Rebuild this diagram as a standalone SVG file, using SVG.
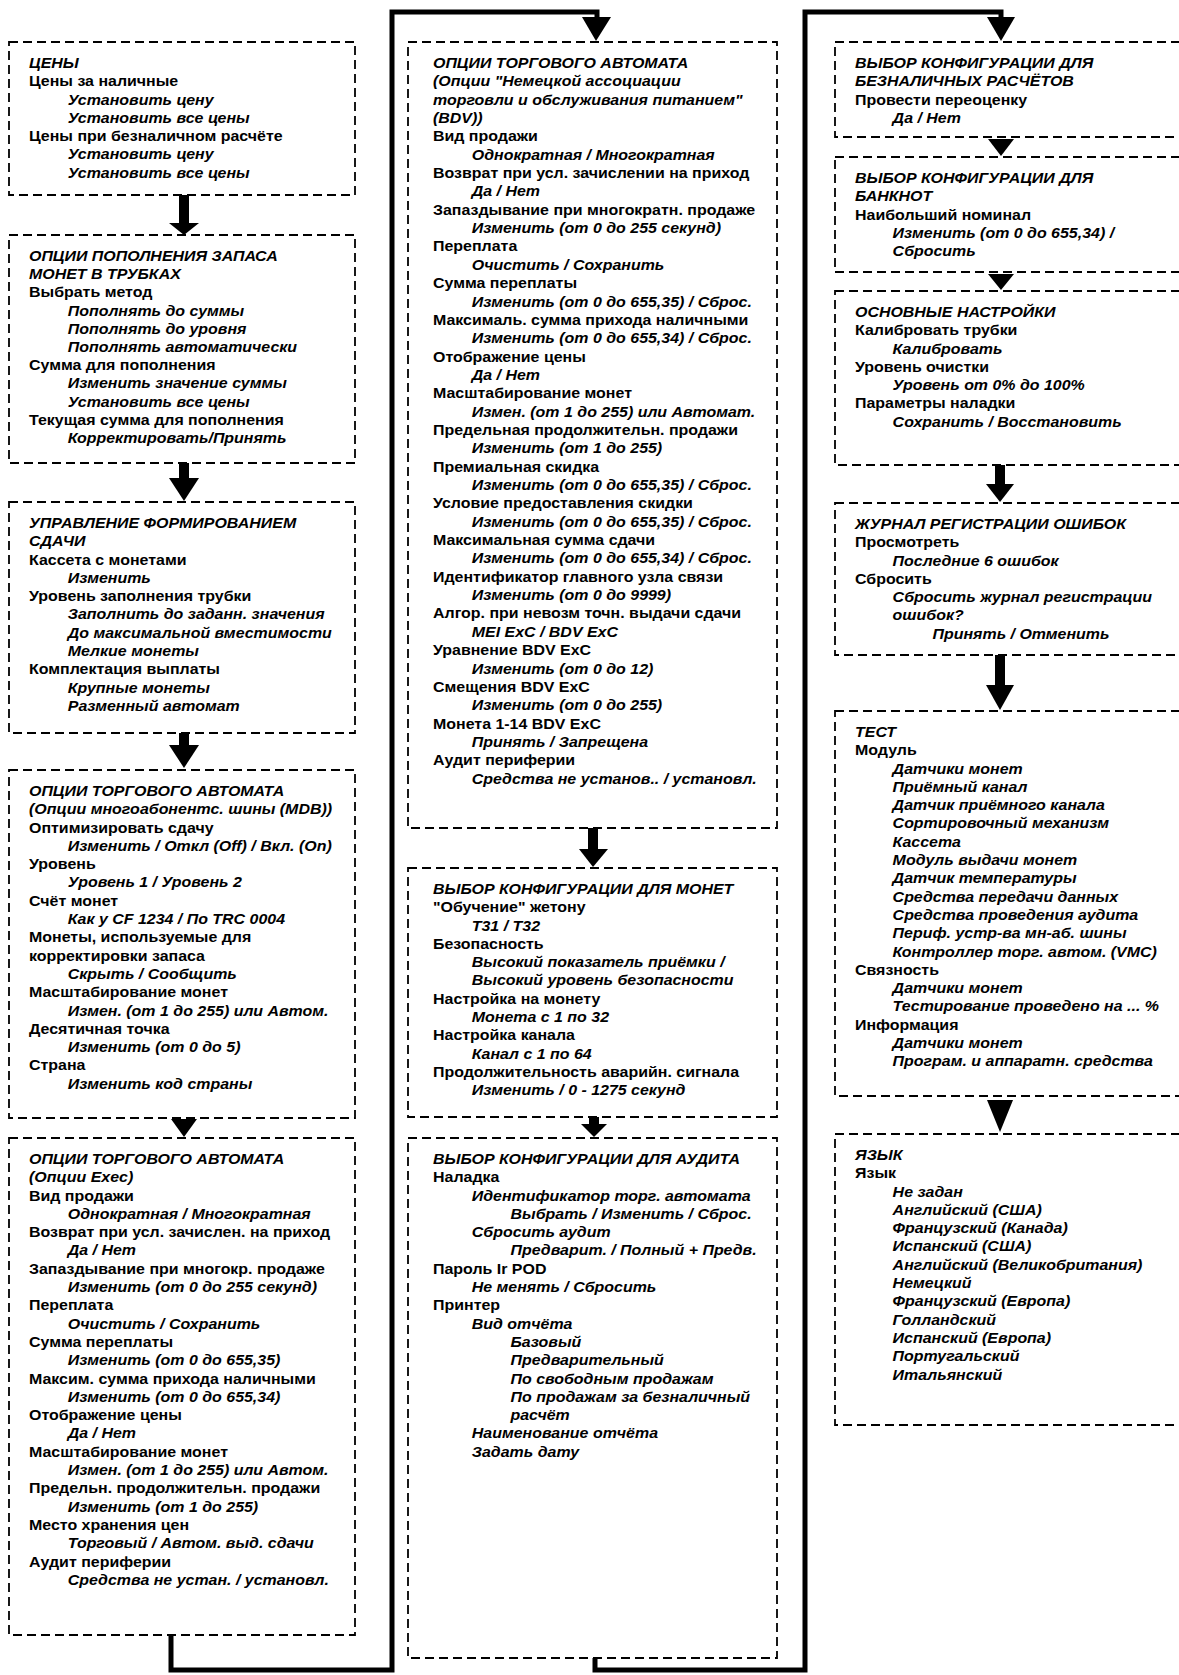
<svg xmlns="http://www.w3.org/2000/svg" width="1179" height="1675" viewBox="0 0 1179 1675">
<style>
.box{fill:none;stroke:#000;stroke-width:1.8;stroke-dasharray:9 5}
.t{font-family:"Liberation Sans",Arial,sans-serif;font-size:14px;font-weight:bold;fill:#000}
.i{font-style:italic}
.conn{fill:none;stroke:#000;stroke-width:5}
.ah{fill:#000}
</style>
<rect width="1179" height="1675" fill="#fff"/>
<g id="connectors">
<path class="conn" d="M171 1635 V1670 H392 V12 H597 V22"/>
<path class="conn" d="M595 1658 V1670 H805 V12 H1001 V22"/>
<polygon class="ah" points="582,17 611,17 596,41"/>
<polygon class="ah" points="987,17 1015,17 1001,41"/>
<rect class="ah" x="179" y="195" width="10" height="28"/>
<polygon class="ah" points="169,223 199,223 184,235"/>
<rect class="ah" x="179" y="463" width="10" height="15"/>
<polygon class="ah" points="169,478 199,478 184,501"/>
<rect class="ah" x="179" y="733" width="10" height="12"/>
<polygon class="ah" points="169,745 199,745 184,768"/>
<polygon class="ah" points="171,1119 197,1119 184,1137"/>
<rect class="ah" x="588" y="828" width="10" height="21"/>
<polygon class="ah" points="579,849 608,849 593,867"/>
<rect class="ah" x="589" y="1117" width="10" height="8"/>
<polygon class="ah" points="581,1124 607,1124 594,1137"/>
<polygon class="ah" points="988,139 1014,139 1001,156"/>
<polygon class="ah" points="988,274 1014,274 1001,290"/>
<rect class="ah" x="995" y="465" width="10" height="20"/>
<polygon class="ah" points="986,484 1014,484 1000,502"/>
<rect class="ah" x="995" y="655" width="10" height="30"/>
<polygon class="ah" points="986,685 1014,685 1000,710"/>
<polygon class="ah" points="987,1100 1013,1100 1000,1132"/>
</g>

<g id="n-prices">
<rect class="box" x="9" y="42" width="346" height="153"/>
<g transform="translate(29 0) scale(1.14 1)"><text class="t" y="68">
<tspan x="0" class="i">ЦЕНЫ</tspan>
<tspan x="0" dy="18.3">Цены за наличные</tspan>
<tspan x="34" dy="18.3" class="i">Установить цену</tspan>
<tspan x="34" dy="18.3" class="i">Установить все цены</tspan>
<tspan x="0" dy="18.3">Цены при безналичном расчёте</tspan>
<tspan x="34" dy="18.3" class="i">Установить цену</tspan>
<tspan x="34" dy="18.3" class="i">Установить все цены</tspan>
</text></g>
</g>

<g id="n-refill">
<rect class="box" x="9" y="235" width="346" height="228"/>
<g transform="translate(29 0) scale(1.14 1)"><text class="t" y="261">
<tspan x="0" class="i">ОПЦИИ ПОПОЛНЕНИЯ ЗАПАСА</tspan>
<tspan x="0" dy="18.2" class="i">МОНЕТ В ТРУБКАХ</tspan>
<tspan x="0" dy="18.2">Выбрать метод</tspan>
<tspan x="34" dy="18.2" class="i">Пополнять до суммы</tspan>
<tspan x="34" dy="18.2" class="i">Пополнять до уровня</tspan>
<tspan x="34" dy="18.2" class="i">Пополнять автоматически</tspan>
<tspan x="0" dy="18.2">Сумма для пополнения</tspan>
<tspan x="34" dy="18.2" class="i">Изменить значение суммы</tspan>
<tspan x="34" dy="18.2" class="i">Установить все цены</tspan>
<tspan x="0" dy="18.2">Текущая сумма для пополнения</tspan>
<tspan x="34" dy="18.2" class="i">Корректировать/Принять</tspan>
</text></g>
</g>

<g id="n-change">
<rect class="box" x="9" y="502" width="346" height="231"/>
<g transform="translate(29 0) scale(1.14 1)"><text class="t" y="528">
<tspan x="0" class="i">УПРАВЛЕНИЕ ФОРМИРОВАНИЕМ</tspan>
<tspan x="0" dy="18.3" class="i">СДАЧИ</tspan>
<tspan x="0" dy="18.3">Кассета с монетами</tspan>
<tspan x="34" dy="18.3" class="i">Изменить</tspan>
<tspan x="0" dy="18.3">Уровень заполнения трубки</tspan>
<tspan x="34" dy="18.3" class="i">Заполнить до заданн. значения</tspan>
<tspan x="34" dy="18.3" class="i">До максимальной вместимости</tspan>
<tspan x="34" dy="18.3" class="i">Мелкие монеты</tspan>
<tspan x="0" dy="18.3">Комплектация выплаты</tspan>
<tspan x="34" dy="18.3" class="i">Крупные монеты</tspan>
<tspan x="34" dy="18.3" class="i">Разменный автомат</tspan>
</text></g>
</g>

<g id="n-mdb">
<rect class="box" x="9" y="770" width="346" height="348"/>
<g transform="translate(29 0) scale(1.14 1)"><text class="t" y="796">
<tspan x="0" class="i">ОПЦИИ ТОРГОВОГО АВТОМАТА</tspan>
<tspan x="0" dy="18.3" class="i">(Опции многоабонентс. шины (MDB))</tspan>
<tspan x="0" dy="18.3">Оптимизировать сдачу</tspan>
<tspan x="34" dy="18.3" class="i">Изменить / Откл (Off) / Вкл. (On)</tspan>
<tspan x="0" dy="18.3">Уровень</tspan>
<tspan x="34" dy="18.3" class="i">Уровень 1 / Уровень 2</tspan>
<tspan x="0" dy="18.3">Счёт монет</tspan>
<tspan x="34" dy="18.3" class="i">Как у CF 1234 / По TRC 0004</tspan>
<tspan x="0" dy="18.3">Монеты, используемые для</tspan>
<tspan x="0" dy="18.3">корректировки запаса</tspan>
<tspan x="34" dy="18.3" class="i">Скрыть / Сообщить</tspan>
<tspan x="0" dy="18.3">Масштабирование монет</tspan>
<tspan x="34" dy="18.3" class="i">Измен. (от 1 до 255) или Автом.</tspan>
<tspan x="0" dy="18.3">Десятичная точка</tspan>
<tspan x="34" dy="18.3" class="i">Изменить (от 0 до 5)</tspan>
<tspan x="0" dy="18.3">Страна</tspan>
<tspan x="34" dy="18.3" class="i">Изменить код страны</tspan>
</text></g>
</g>

<g id="n-exec">
<rect class="box" x="9" y="1138" width="346" height="497"/>
<g transform="translate(29 0) scale(1.14 1)"><text class="t" y="1164">
<tspan x="0" class="i">ОПЦИИ ТОРГОВОГО АВТОМАТА</tspan>
<tspan x="0" dy="18.3" class="i">(Опции Exec)</tspan>
<tspan x="0" dy="18.3">Вид продажи</tspan>
<tspan x="34" dy="18.3" class="i">Однократная / Многократная</tspan>
<tspan x="0" dy="18.3">Возврат при усл. зачислен. на приход</tspan>
<tspan x="34" dy="18.3" class="i">Да / Нет</tspan>
<tspan x="0" dy="18.3">Запаздывание при многокр. продаже</tspan>
<tspan x="34" dy="18.3" class="i">Изменить (от 0 до 255 секунд)</tspan>
<tspan x="0" dy="18.3">Переплата</tspan>
<tspan x="34" dy="18.3" class="i">Очистить / Сохранить</tspan>
<tspan x="0" dy="18.3">Сумма переплаты</tspan>
<tspan x="34" dy="18.3" class="i">Изменить (от 0 до 655,35)</tspan>
<tspan x="0" dy="18.3">Максим. сумма прихода наличными</tspan>
<tspan x="34" dy="18.3" class="i">Изменить (от 0 до 655,34)</tspan>
<tspan x="0" dy="18.3">Отображение цены</tspan>
<tspan x="34" dy="18.3" class="i">Да / Нет</tspan>
<tspan x="0" dy="18.3">Масштабирование монет</tspan>
<tspan x="34" dy="18.3" class="i">Измен. (от 1 до 255) или Автом.</tspan>
<tspan x="0" dy="18.3">Предельн. продолжительн. продажи</tspan>
<tspan x="34" dy="18.3" class="i">Изменить (от 1 до 255)</tspan>
<tspan x="0" dy="18.3">Место хранения цен</tspan>
<tspan x="34" dy="18.3" class="i">Торговый / Автом. выд. сдачи</tspan>
<tspan x="0" dy="18.3">Аудит периферии</tspan>
<tspan x="34" dy="18.3" class="i">Средства не устан. / установл.</tspan>
</text></g>
</g>

<g id="n-bdv">
<rect class="box" x="408" y="42" width="369" height="786"/>
<g transform="translate(433 0) scale(1.14 1)"><text class="t" y="68">
<tspan x="0" class="i">ОПЦИИ ТОРГОВОГО АВТОМАТА</tspan>
<tspan x="0" dy="18.35" class="i">(Опции "Немецкой ассоциации</tspan>
<tspan x="0" dy="18.35" class="i">торговли и обслуживания питанием"</tspan>
<tspan x="0" dy="18.35" class="i">(BDV))</tspan>
<tspan x="0" dy="18.35">Вид продажи</tspan>
<tspan x="34" dy="18.35" class="i">Однократная / Многократная</tspan>
<tspan x="0" dy="18.35">Возврат при усл. зачислении на приход</tspan>
<tspan x="34" dy="18.35" class="i">Да / Нет</tspan>
<tspan x="0" dy="18.35">Запаздывание при многократн. продаже</tspan>
<tspan x="34" dy="18.35" class="i">Изменить (от 0 до 255 секунд)</tspan>
<tspan x="0" dy="18.35">Переплата</tspan>
<tspan x="34" dy="18.35" class="i">Очистить / Сохранить</tspan>
<tspan x="0" dy="18.35">Сумма переплаты</tspan>
<tspan x="34" dy="18.35" class="i">Изменить (от 0 до 655,35) / Сброс.</tspan>
<tspan x="0" dy="18.35">Максималь. сумма прихода наличными</tspan>
<tspan x="34" dy="18.35" class="i">Изменить (от 0 до 655,34) / Сброс.</tspan>
<tspan x="0" dy="18.35">Отображение цены</tspan>
<tspan x="34" dy="18.35" class="i">Да / Нет</tspan>
<tspan x="0" dy="18.35">Масштабирование монет</tspan>
<tspan x="34" dy="18.35" class="i">Измен. (от 1 до 255) или Автомат.</tspan>
<tspan x="0" dy="18.35">Предельная продолжительн. продажи</tspan>
<tspan x="34" dy="18.35" class="i">Изменить (от 1 до 255)</tspan>
<tspan x="0" dy="18.35">Премиальная скидка</tspan>
<tspan x="34" dy="18.35" class="i">Изменить (от 0 до 655,35) / Сброс.</tspan>
<tspan x="0" dy="18.35">Условие предоставления скидки</tspan>
<tspan x="34" dy="18.35" class="i">Изменить (от 0 до 655,35) / Сброс.</tspan>
<tspan x="0" dy="18.35">Максимальная сумма сдачи</tspan>
<tspan x="34" dy="18.35" class="i">Изменить (от 0 до 655,34) / Сброс.</tspan>
<tspan x="0" dy="18.35">Идентификатор главного узла связи</tspan>
<tspan x="34" dy="18.35" class="i">Изменить (от 0 до 9999)</tspan>
<tspan x="0" dy="18.35">Алгор. при невозм точн. выдачи сдачи</tspan>
<tspan x="34" dy="18.35" class="i">MEI ExC / BDV ExC</tspan>
<tspan x="0" dy="18.35">Уравнение BDV ExC</tspan>
<tspan x="34" dy="18.35" class="i">Изменить (от 0 до 12)</tspan>
<tspan x="0" dy="18.35">Смещения BDV ExC</tspan>
<tspan x="34" dy="18.35" class="i">Изменить (от 0 до 255)</tspan>
<tspan x="0" dy="18.35">Монета 1-14 BDV ExC</tspan>
<tspan x="34" dy="18.35" class="i">Принять / Запрещена</tspan>
<tspan x="0" dy="18.35">Аудит периферии</tspan>
<tspan x="34" dy="18.35" class="i">Средства не установ.. / установл.</tspan>
</text></g>
</g>

<g id="n-coins">
<rect class="box" x="408" y="868" width="369" height="249"/>
<g transform="translate(433 0) scale(1.14 1)"><text class="t" y="894">
<tspan x="0" class="i">ВЫБОР КОНФИГУРАЦИИ ДЛЯ МОНЕТ</tspan>
<tspan x="0" dy="18.3">"Обучение" жетону</tspan>
<tspan x="34" dy="18.3" class="i">T31 / T32</tspan>
<tspan x="0" dy="18.3">Безопасность</tspan>
<tspan x="34" dy="18.3" class="i">Высокий показатель приёмки /</tspan>
<tspan x="34" dy="18.3" class="i">Высокий уровень безопасности</tspan>
<tspan x="0" dy="18.3">Настройка на монету</tspan>
<tspan x="34" dy="18.3" class="i">Монета с 1 по 32</tspan>
<tspan x="0" dy="18.3">Настройка канала</tspan>
<tspan x="34" dy="18.3" class="i">Канал с 1 по 64</tspan>
<tspan x="0" dy="18.3">Продолжительность аварийн. сигнала</tspan>
<tspan x="34" dy="18.3" class="i">Изменить / 0 - 1275 секунд</tspan>
</text></g>
</g>

<g id="n-audit">
<rect class="box" x="408" y="1138" width="369" height="520"/>
<g transform="translate(433 0) scale(1.14 1)"><text class="t" y="1164">
<tspan x="0" class="i">ВЫБОР КОНФИГУРАЦИИ ДЛЯ АУДИТА</tspan>
<tspan x="0" dy="18.3">Наладка</tspan>
<tspan x="34" dy="18.3" class="i">Идентификатор торг. автомата</tspan>
<tspan x="68" dy="18.3" class="i">Выбрать / Изменить / Сброс.</tspan>
<tspan x="34" dy="18.3" class="i">Сбросить аудит</tspan>
<tspan x="68" dy="18.3" class="i">Предварит. / Полный + Предв.</tspan>
<tspan x="0" dy="18.3">Пароль Ir POD</tspan>
<tspan x="34" dy="18.3" class="i">Не менять / Сбросить</tspan>
<tspan x="0" dy="18.3">Принтер</tspan>
<tspan x="34" dy="18.3" class="i">Вид отчёта</tspan>
<tspan x="68" dy="18.3" class="i">Базовый</tspan>
<tspan x="68" dy="18.3" class="i">Предварительный</tspan>
<tspan x="68" dy="18.3" class="i">По свободным продажам</tspan>
<tspan x="68" dy="18.3" class="i">По продажам за безналичный</tspan>
<tspan x="68" dy="18.3" class="i">расчёт</tspan>
<tspan x="34" dy="18.3" class="i">Наименование отчёта</tspan>
<tspan x="34" dy="18.3" class="i">Задать дату</tspan>
</text></g>
</g>

<g id="n-cashless">
<rect class="box" x="835" y="42" width="360" height="95"/>
<g transform="translate(855 0) scale(1.14 1)"><text class="t" y="68">
<tspan x="0" class="i">ВЫБОР КОНФИГУРАЦИИ ДЛЯ</tspan>
<tspan x="0" dy="18.3" class="i">БЕЗНАЛИЧНЫХ РАСЧЁТОВ</tspan>
<tspan x="0" dy="18.3">Провести переоценку</tspan>
<tspan x="33" dy="18.3" class="i">Да / Нет</tspan>
</text></g>
</g>

<g id="n-bills">
<rect class="box" x="835" y="157" width="360" height="115"/>
<g transform="translate(855 0) scale(1.14 1)"><text class="t" y="183">
<tspan x="0" class="i">ВЫБОР КОНФИГУРАЦИИ ДЛЯ</tspan>
<tspan x="0" dy="18.3" class="i">БАНКНОТ</tspan>
<tspan x="0" dy="18.3">Наибольший номинал</tspan>
<tspan x="33" dy="18.3" class="i">Изменить (от 0 до 655,34) /</tspan>
<tspan x="33" dy="18.3" class="i">Сбросить</tspan>
</text></g>
</g>

<g id="n-basic">
<rect class="box" x="835" y="291" width="360" height="174"/>
<g transform="translate(855 0) scale(1.14 1)"><text class="t" y="317">
<tspan x="0" class="i">ОСНОВНЫЕ НАСТРОЙКИ</tspan>
<tspan x="0" dy="18.3">Калибровать трубки</tspan>
<tspan x="33" dy="18.3" class="i">Калибровать</tspan>
<tspan x="0" dy="18.3">Уровень очистки</tspan>
<tspan x="33" dy="18.3" class="i">Уровень от 0% до 100%</tspan>
<tspan x="0" dy="18.3">Параметры наладки</tspan>
<tspan x="33" dy="18.3" class="i">Сохранить / Восстановить</tspan>
</text></g>
</g>

<g id="n-errors">
<rect class="box" x="835" y="503" width="360" height="152"/>
<g transform="translate(855 0) scale(1.14 1)"><text class="t" y="529">
<tspan x="0" class="i">ЖУРНАЛ РЕГИСТРАЦИИ ОШИБОК</tspan>
<tspan x="0" dy="18.3">Просмотреть</tspan>
<tspan x="33" dy="18.3" class="i">Последние 6 ошибок</tspan>
<tspan x="0" dy="18.3">Сбросить</tspan>
<tspan x="33" dy="18.3" class="i">Сбросить журнал регистрации</tspan>
<tspan x="33" dy="18.3" class="i">ошибок?</tspan>
<tspan x="68" dy="18.3" class="i">Принять / Отменить</tspan>
</text></g>
</g>

<g id="n-test">
<rect class="box" x="835" y="711" width="360" height="385"/>
<g transform="translate(855 0) scale(1.14 1)"><text class="t" y="737">
<tspan x="0" class="i">ТЕСТ</tspan>
<tspan x="0" dy="18.3">Модуль</tspan>
<tspan x="33" dy="18.3" class="i">Датчики монет</tspan>
<tspan x="33" dy="18.3" class="i">Приёмный канал</tspan>
<tspan x="33" dy="18.3" class="i">Датчик приёмного канала</tspan>
<tspan x="33" dy="18.3" class="i">Сортировочный механизм</tspan>
<tspan x="33" dy="18.3" class="i">Кассета</tspan>
<tspan x="33" dy="18.3" class="i">Модуль выдачи монет</tspan>
<tspan x="33" dy="18.3" class="i">Датчик температуры</tspan>
<tspan x="33" dy="18.3" class="i">Средства передачи данных</tspan>
<tspan x="33" dy="18.3" class="i">Средства проведения аудита</tspan>
<tspan x="33" dy="18.3" class="i">Периф. устр-ва мн-аб. шины</tspan>
<tspan x="33" dy="18.3" class="i">Контроллер торг. автом. (VMC)</tspan>
<tspan x="0" dy="18.3">Связность</tspan>
<tspan x="33" dy="18.3" class="i">Датчики монет</tspan>
<tspan x="33" dy="18.3" class="i">Тестирование проведено на ... %</tspan>
<tspan x="0" dy="18.3">Информация</tspan>
<tspan x="33" dy="18.3" class="i">Датчики монет</tspan>
<tspan x="33" dy="18.3" class="i">Програм. и аппаратн. средства</tspan>
</text></g>
</g>

<g id="n-language">
<rect class="box" x="835" y="1134" width="360" height="291"/>
<g transform="translate(855 0) scale(1.14 1)"><text class="t" y="1160">
<tspan x="0" class="i">ЯЗЫК</tspan>
<tspan x="0" dy="18.3">Язык</tspan>
<tspan x="33" dy="18.3" class="i">Не задан</tspan>
<tspan x="33" dy="18.3" class="i">Английский (США)</tspan>
<tspan x="33" dy="18.3" class="i">Французский (Канада)</tspan>
<tspan x="33" dy="18.3" class="i">Испанский (США)</tspan>
<tspan x="33" dy="18.3" class="i">Английский (Великобритания)</tspan>
<tspan x="33" dy="18.3" class="i">Немецкий</tspan>
<tspan x="33" dy="18.3" class="i">Французский (Европа)</tspan>
<tspan x="33" dy="18.3" class="i">Голландский</tspan>
<tspan x="33" dy="18.3" class="i">Испанский (Европа)</tspan>
<tspan x="33" dy="18.3" class="i">Португальский</tspan>
<tspan x="33" dy="18.3" class="i">Итальянский</tspan>
</text></g>
</g>
</svg>
